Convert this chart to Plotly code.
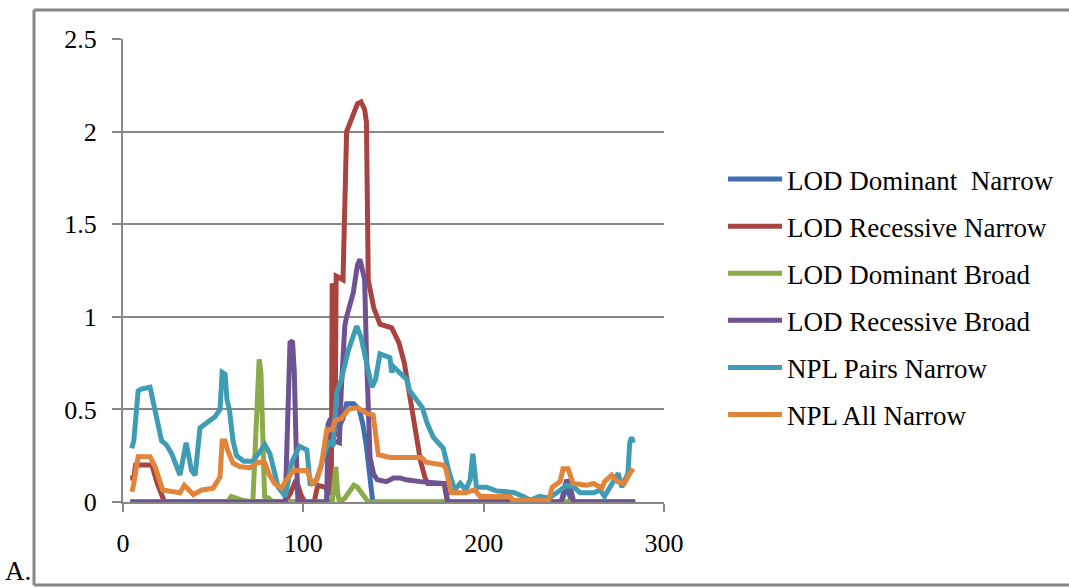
import plotly.graph_objects as go

W, H = 1069, 588

# ---------------- data ----------------
names = ["LOD Dominant  Narrow", "LOD Recessive Narrow", "LOD Dominant Broad",
         "LOD Recessive Broad", "NPL Pairs Narrow", "NPL All Narrow"]
colors = ["#3F6FAF", "#A94340", "#8BAA49", "#6E5292", "#3E9CB4", "#E2843A"]

dom_narrow_x = [4, 113, 114, 115, 120, 122, 124, 128, 131, 133, 135, 137, 138.5, 243, 246, 249, 284]
dom_narrow_y = [0, 0, 0.35, 0.4, 0.41, 0.45, 0.53, 0.53, 0.5, 0.42, 0.3, 0.1, 0, 0, 0.08, 0, 0]

rec_narrow_x = [4, 6, 7, 16, 19, 23, 90, 93, 96, 99, 101, 106, 108, 112, 114, 115.5, 116, 117, 117.6,
                118.2, 122, 123, 124, 126, 128, 130, 132, 134, 135, 136, 139, 142.5, 149, 153, 156,
                161, 165, 167.5, 169, 178, 180, 284]
rec_narrow_y = [0.13, 0.13, 0.2, 0.2, 0.1, 0, 0, 0.05, 0.12, 0.03, 0, 0, 0.09, 0.08, 0.05, 0.05, 1.18,
                1.15, 0.35, 1.22, 1.2, 1.6, 2.0, 2.05, 2.1, 2.15, 2.16, 2.12, 2.05, 1.2, 1.05, 0.96,
                0.94, 0.86, 0.75, 0.44, 0.22, 0.13, 0.1, 0.1, 0, 0]

dom_broad_x = [4, 58, 60, 63, 66, 72, 73.5, 75.5, 76.5, 77.5, 78.5, 81, 83, 116, 117, 118, 119, 120,
               123, 126, 128, 130, 132, 134, 136, 284]
dom_broad_y = [0, 0, 0.03, 0.02, 0.01, 0, 0.4, 0.77, 0.7, 0.3, 0.03, 0.02, 0, 0, 0.1, 0.19, 0.05, 0,
               0.02, 0.06, 0.09, 0.08, 0.05, 0.02, 0, 0]

rec_broad_x = [4, 90, 91.5, 92.6, 94, 95, 96, 97, 113, 113.7, 115, 116, 117, 120, 121, 123, 124,
               127.7, 130, 131.4, 133, 134, 135, 137, 139, 141, 146, 148, 150, 153.6, 157, 165,
               178.6, 180, 243, 246, 248, 250, 284]
rec_broad_y = [0, 0, 0.5, 0.86, 0.87, 0.7, 0.3, 0, 0, 0.42, 0.45, 0.36, 0.33, 0.32, 0.6, 0.95, 1.0,
               1.13, 1.28, 1.31, 1.25, 1.2, 0.8, 0.24, 0.15, 0.12, 0.11, 0.12, 0.13, 0.13, 0.12,
               0.11, 0.1, 0, 0, 0.12, 0.08, 0, 0]

npl_pairs_x = [4.8, 6, 8.4, 10, 15, 16.7, 21.4, 24, 27, 31.6, 35, 38, 40, 42.7, 47, 51, 53.8, 55,
               56.6, 57.7, 59, 61, 63, 67, 72, 75, 78.7, 81.5, 84, 86, 90, 92, 93.7, 98, 102,
               103.7, 106.5, 109, 113, 115, 116.5, 118.5, 121, 125, 127, 129.6, 132, 135, 138,
               140, 142.5, 148, 149, 150, 153.6, 157.5, 159, 163, 166, 168.5, 172, 177.6, 181,
               184, 187, 190, 192.5, 194, 196, 201.6, 207, 213, 217, 222, 226, 231, 236, 240.6,
               246, 250, 253.5, 261, 264.6, 267, 272, 274.6, 276.6, 280, 281, 282, 283]
npl_pairs_y = [0.29, 0.33, 0.6, 0.61, 0.62, 0.55, 0.33, 0.31, 0.26, 0.145, 0.32, 0.17, 0.145, 0.4,
               0.43, 0.46, 0.5, 0.7, 0.69, 0.55, 0.5, 0.33, 0.25, 0.22, 0.22, 0.26, 0.31, 0.26,
               0.15, 0.08, 0.03, 0.15, 0.22, 0.3, 0.28, 0.1, 0.1, 0.17, 0.3, 0.33, 0.3, 0.59,
               0.66, 0.82, 0.88, 0.95, 0.89, 0.75, 0.62, 0.66, 0.8, 0.78, 0.7, 0.73, 0.7, 0.66,
               0.6, 0.55, 0.51, 0.43, 0.35, 0.29, 0.155, 0.065, 0.1, 0.065, 0.12, 0.26, 0.08,
               0.08, 0.06, 0.055, 0.05, 0.03, 0.01, 0.03, 0.02, 0.05, 0.09, 0.08, 0.05, 0.05,
               0.065, 0.03, 0.12, 0.155, 0.08, 0.155, 0.32, 0.35, 0.32]

npl_all_x = [5, 6, 8.4, 15, 17.8, 22, 31.6, 34, 39, 43.7, 50, 53.8, 55, 56.6, 58, 61, 65, 70.4, 75,
             78.7, 81, 84, 88, 90, 94.5, 102, 105, 107.6, 110, 113, 116, 117.6, 121, 125, 130,
             135, 138.7, 141.6, 148, 165.6, 168, 177.6, 179, 182, 190, 195, 198, 214.6, 216, 236,
             238, 242.4, 244, 246.8, 249.6, 257, 261, 265.6, 267, 271, 274, 278, 281, 283]
npl_all_y = [0.055, 0.1, 0.245, 0.245, 0.19, 0.065, 0.05, 0.09, 0.04, 0.065, 0.075, 0.135, 0.33,
             0.33, 0.28, 0.21, 0.19, 0.185, 0.215, 0.21, 0.15, 0.1, 0.075, 0.11, 0.17, 0.17, 0.1,
             0.12, 0.2, 0.39, 0.39, 0.44, 0.45, 0.5, 0.51, 0.48, 0.47, 0.255, 0.24, 0.24, 0.215,
             0.2, 0.18, 0.05, 0.05, 0.065, 0.03, 0.03, 0.01, 0.01, 0.08, 0.11, 0.18, 0.18, 0.1,
             0.09, 0.1, 0.075, 0.11, 0.145, 0.11, 0.1, 0.155, 0.18]

x_ticks = [0, 100, 200, 300]
y_ticks = [0, 0.5, 1, 1.5, 2, 2.5]

series = [(dom_narrow_x, dom_narrow_y), (rec_narrow_x, rec_narrow_y), (dom_broad_x, dom_broad_y),
          (rec_broad_x, rec_broad_y), (npl_pairs_x, npl_pairs_y), (npl_all_x, npl_all_y)]

# ---------------- figure ----------------
FONT = "Liberation Serif"
GRAY = "#878787"

fig = go.Figure()
for i, ((xs, ys), name, col) in enumerate(zip(series, names, colors)):
    fig.add_trace(go.Scatter(x=xs, y=ys, mode="lines", name=name, legendgroup=str(i),
                             line=dict(color=col, width=5)))

fig.update_layout(
    width=W, height=H,
    margin=dict(l=0, r=0, t=0, b=0, autoexpand=False),
    paper_bgcolor="white", plot_bgcolor="white",
    font=dict(family=FONT, size=26, color="black"),
    showlegend=True,
    legend=dict(x=723 / W, xanchor="left", y=1 - 155 / H, yanchor="top",
                font=dict(family=FONT, size=27, color="black"),
                itemwidth=54,
                tracegroupgap=9, traceorder="grouped", bgcolor="rgba(0,0,0,0)"),
    xaxis=dict(domain=[123 / W, 664 / W], range=[0, 300], tickvals=x_ticks, automargin=False,
               showgrid=False, zeroline=False, showline=True, linecolor=GRAY, linewidth=2,
               ticks="outside", ticklen=8, tickwidth=2, tickcolor=GRAY,
               tickfont=dict(family=FONT, size=26), ticklabelstandoff=9),
    yaxis=dict(domain=[1 - 502 / H, 1 - 39 / H], range=[0, 2.5], tickvals=y_ticks, automargin=False,
               showgrid=True, gridcolor=GRAY, gridwidth=2, zeroline=False,
               showline=True, linecolor=GRAY, linewidth=2,
               ticks="outside", ticklen=9, tickwidth=2, tickcolor=GRAY,
               tickfont=dict(family=FONT, size=26), ticklabelstandoff=10),
    shapes=[dict(type="line", xref="paper", yref="paper", x0=34 / W, x1=1.01,
                 y0=1 - 10 / H, y1=1 - 10 / H, line=dict(color=GRAY, width=3)),
            dict(type="line", xref="paper", yref="paper", x0=34 / W, x1=1.01,
                 y0=1 - 585 / H, y1=1 - 585 / H, line=dict(color=GRAY, width=3)),
            dict(type="line", xref="paper", yref="paper", x0=34 / W, x1=34 / W,
                 y0=1 - 585 / H, y1=1 - 10 / H, line=dict(color=GRAY, width=3))],
    annotations=[dict(text="A.", xref="paper", yref="paper", x=3 / W, y=1 - 571 / H,
                      xanchor="left", yanchor="middle", showarrow=False,
                      font=dict(family=FONT, size=27, color="black"))],
)

fig.write_html("out.html")
